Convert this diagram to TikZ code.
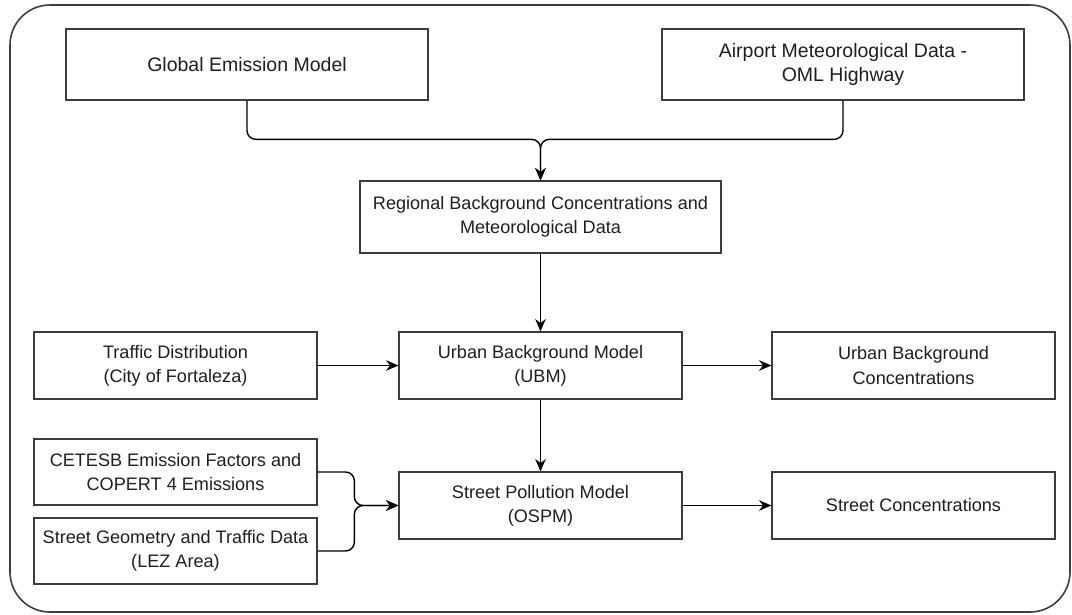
\documentclass[tikz,border=0pt]{standalone}
\usepackage{fontspec}
\setmainfont{Liberation Sans}
\usepackage{tikz}
\usetikzlibrary{positioning,calc,arrows.meta}
\definecolor{boxline}{RGB}{60, 60, 60}
\definecolor{textcol}{RGB}{30, 30, 30}

\begin{document}
\begin{tikzpicture}[
    block/.style={rectangle, draw=boxline, line width=0.75pt, align=center,
        text=textcol, font=\fontsize{10.3}{13.8}\selectfont, inner sep=1pt},
    wide/.style={block, minimum width=7.24cm, minimum height=1.42cm},
    mid/.style={block, minimum width=5.66cm, minimum height=1.34cm},
    conn/.style={-{Stealth[length=7pt, width=6pt]}, line width=0.8pt, black, rounded corners=5pt}
]
    \useasboundingbox (0,0) rectangle (21.44,-12.3);

    % Outer frame
    \draw[boxline, line width=0.9pt, rounded corners=0.8cm] (0.2,-0.1) rectangle (21.4,-12.24);

    % Input data
    \node[wide, font=\fontsize{11.1}{13.6}\selectfont] (gem) at (4.94,-1.29) {Global Emission Model};
    \node[wide, font=\fontsize{11.1}{13.6}\selectfont] (aml) at (16.86,-1.29) {Airport Meteorological Data -\\OML Highway};
    \node[wide, minimum width=7.22cm, minimum height=1.44cm] (reg) at (10.81,-4.34)
        {Regional Background Concentrations and\\Meteorological Data};

    % Urban background row
    \node[mid] (traf) at (3.51,-7.31) {Traffic Distribution\\(City of Fortaleza)};
    \node[mid] (ubm) at (10.81,-7.31) {Urban Background Model\\(UBM)};
    \node[mid] (ubc) at (18.27,-7.31) {Urban Background\\Concentrations};

    % Street row
    \node[mid, minimum height=1.32cm] (cet) at (3.51,-9.44) {CETESB Emission Factors and\\COPERT 4 Emissions};
    \node[mid, minimum height=1.32cm] (sgt) at (3.51,-11.02) {Street Geometry and Traffic Data\\(LEZ Area)};
    \node[mid] (spm) at (10.81,-10.11) {Street Pollution Model\\(OSPM)};
    \node[mid] (stc) at (18.27,-10.11) {Street Concentrations};

    % Junction points
    \coordinate[above=0.82cm of reg.north] (merge);
    \coordinate[left=0.88cm of spm.west] (join);

    % Connectors
    \draw[conn] (gem.south) |- (merge) -- (reg.north);
    \draw[conn] (aml.south) |- (merge) -- (reg.north);
    \draw[conn] (reg) -- (ubm);
    \draw[conn] (traf) -- (ubm);
    \draw[conn] (ubm) -- (ubc);
    \draw[conn] (ubm) -- (spm);
    \draw[conn] (cet.east) -| (join) -- (spm.west);
    \draw[conn] (sgt.east) -| (join) -- (spm.west);
    \draw[conn] (spm) -- (stc);
\end{tikzpicture}
\end{document}
